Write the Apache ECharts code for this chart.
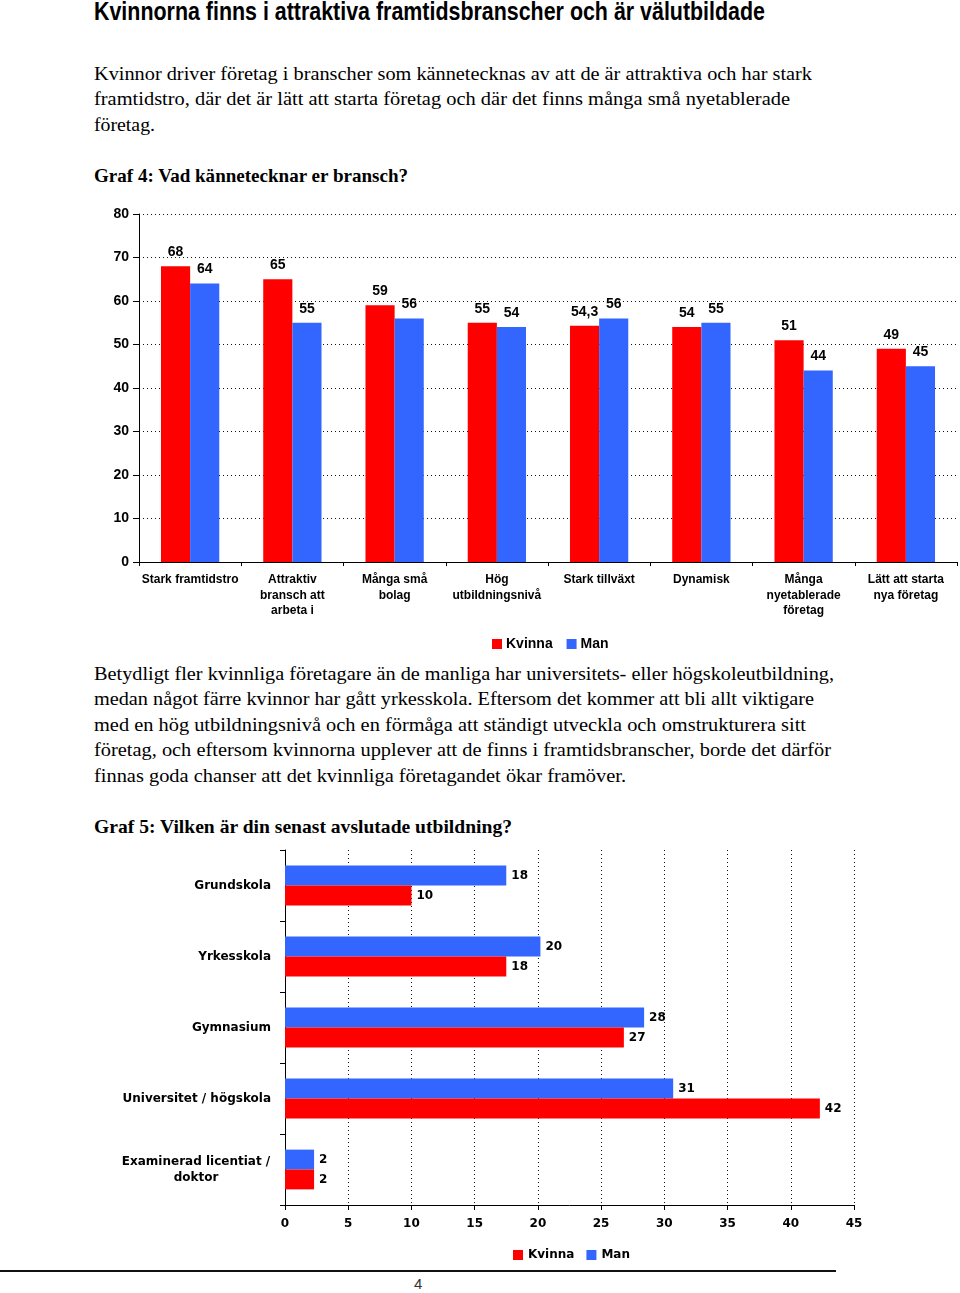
<!DOCTYPE html>
<html>
<head>
<meta charset="utf-8">
<script src="https://cdn.jsdelivr.net/npm/echarts@6/dist/echarts.min.js"></script>
<style>
html,body{margin:0;padding:0;background:#fff;width:960px;height:1293px;overflow:hidden;}
#chart{position:absolute;left:0;top:0;width:960px;height:1293px;z-index:2;}
.t{position:absolute;left:94px;white-space:nowrap;color:#000;z-index:1;}
.t span{display:inline-block;transform-origin:0 50%;}
.serif{font-family:"Liberation Serif","DejaVu Serif",serif;font-size:19px;line-height:24px;height:24px;}
.bold{font-weight:bold;}
.title{font-family:"Liberation Sans",Arial,sans-serif;font-weight:bold;font-size:25px;line-height:28px;height:28px;}
.pnum{font-family:"Liberation Sans",Arial,sans-serif;font-size:15px;color:#333;line-height:18px;}
</style>
</head>
<body>
<div class="t title" style="top:-3px" data-w="671"><span>Kvinnorna finns i attraktiva framtidsbranscher och är välutbildade</span></div>
<div class="t serif" style="top:62px" data-w="718"><span>Kvinnor driver företag i branscher som kännetecknas av att de är attraktiva och har stark</span></div>
<div class="t serif" style="top:87px" data-w="696"><span>framtidstro, där det är lätt att starta företag och där det finns många små nyetablerade</span></div>
<div class="t serif" style="top:113px" data-w="61"><span>företag.</span></div>
<div class="t serif bold" style="top:164px" data-w="314"><span>Graf 4: Vad kännetecknar er bransch?</span></div>
<div class="t serif" style="top:662px" data-w="740"><span>Betydligt fler kvinnliga företagare än de manliga har universitets- eller högskoleutbildning,</span></div>
<div class="t serif" style="top:687px" data-w="720"><span>medan något färre kvinnor har gått yrkesskola. Eftersom det kommer att bli allt viktigare</span></div>
<div class="t serif" style="top:713px" data-w="712"><span>med en hög utbildningsnivå och en förmåga att ständigt utveckla och omstrukturera sitt</span></div>
<div class="t serif" style="top:738px" data-w="737"><span>företag, och eftersom kvinnorna upplever att de finns i framtidsbranscher, borde det därför</span></div>
<div class="t serif" style="top:764px" data-w="532"><span>finnas goda chanser att det kvinnliga företagandet ökar framöver.</span></div>
<div class="t serif bold" style="top:815px" data-w="418"><span>Graf 5: Vilken är din senast avslutade utbildning?</span></div>
<div class="t pnum" style="top:1275px;left:414px"><span>4</span></div>
<div id="chart"></div>
<script>
// ---- Graf 4 data ----
const categories1 = ['Stark framtidstro', 'Attraktiv\nbransch att\narbeta i', 'Många små\nbolag', 'Hög\nutbildningsnivå', 'Stark tillväxt', 'Dynamisk', 'Många\nnyetablerade\nföretag', 'Lätt att starta\nnya företag'];
const kvinna1 = [68, 65, 59, 55, 54.3, 54, 51, 49];
const man1 = [64, 55, 56, 54, 56, 55, 44, 45];
const yMin1 = 0, yMax1 = 80, yStep1 = 10;

// ---- Graf 5 data ----
const categories2 = ['Grundskola', 'Yrkesskola', 'Gymnasium', 'Universitet / högskola', 'Examinerad licentiat /\ndoktor'];
const kvinna2 = [10, 17.5, 26.8, 42.3, 2.3];
const man2 = [17.5, 20.2, 28.4, 30.7, 2.3];
const xMin2 = 0, xMax2 = 45, xStep2 = 5;

const seriesNames = ['Kvinna', 'Man'];

// fit text lines
document.querySelectorAll('.t[data-w]').forEach(el => {
  const s = el.querySelector('span');
  const w = s.getBoundingClientRect().width;
  s.style.transform = 'scaleX(' + (parseFloat(el.dataset.w) / w) + ')';
});

const RED = '#FF0000', BLUE = '#3366FF';
const SANS = '"Liberation Sans", Arial, sans-serif';
const WIDE = '"DejaVu Sans", "Liberation Sans", sans-serif';
const dotted = { color: '#111', width: 1, type: [1, 3] };
const axisLn = { color: '#000', width: 1 };

const chart = echarts.init(document.getElementById('chart'), null, { renderer: 'canvas' });

const cat2Rich = {
  a: { width: 150, align: 'center', fontFamily: WIDE, fontWeight: 'bold', fontSize: 12, color: '#000', lineHeight: 16 }
};

chart.setOption({
  animation: false,
  backgroundColor: 'transparent',
  grid: [
    { left: 139, top: 214, width: 818, height: 348 },
    { left: 285, top: 850, width: 569, height: 355 }
  ],
  legend: [
    { data: seriesNames.map(n => n + ' '), left: 487, top: 632, icon: 'rect', itemWidth: 10, itemHeight: 10, itemGap: 10,
      textStyle: { fontFamily: SANS, fontWeight: 'bold', fontSize: 14, color: '#000', padding: [0, 0, 0, -1] } },
    { data: seriesNames, left: 508, top: 1244, icon: 'rect', itemWidth: 10, itemHeight: 10, itemGap: 12,
      textStyle: { fontFamily: WIDE, fontWeight: 'bold', fontSize: 12, color: '#000' } }
  ],
  xAxis: [
    { type: 'category', gridIndex: 0, data: categories1,
      axisLine: { lineStyle: axisLn },
      axisTick: { show: true, length: 4, lineStyle: axisLn },
      axisLabel: { interval: 0, margin: 10, fontFamily: SANS, fontWeight: 'bold', fontSize: 12, lineHeight: 15.5, color: '#000' },
      splitLine: { show: false } },
    { type: 'value', gridIndex: 1, min: xMin2, max: xMax2, interval: xStep2,
      axisLine: { show: true, lineStyle: axisLn },
      axisTick: { show: true, length: 5, lineStyle: axisLn },
      axisLabel: { margin: 13, fontFamily: WIDE, fontWeight: 'bold', fontSize: 12, color: '#000' },
      splitLine: { show: true, lineStyle: dotted } }
  ],
  yAxis: [
    { type: 'value', gridIndex: 0, min: yMin1, max: yMax1, interval: yStep1,
      axisLine: { show: true, lineStyle: axisLn },
      axisTick: { show: true, length: 6, lineStyle: axisLn },
      axisLabel: { margin: 10, fontFamily: SANS, fontWeight: 'bold', fontSize: 14, color: '#000' },
      splitLine: { show: true, lineStyle: dotted } },
    { type: 'category', gridIndex: 1, data: categories2, inverse: true,
      axisLine: { show: true, lineStyle: axisLn },
      axisTick: { show: true, length: 5, lineStyle: axisLn },
      axisLabel: { interval: 0, margin: 14, color: '#000',
        formatter: v => v.indexOf('\n') >= 0 ? v.split('\n').map(p => '{a|' + p + '}').join('\n') : v,
        fontFamily: WIDE, fontWeight: 'bold', fontSize: 12, rich: cat2Rich } }
  ],
  series: [
    { name: seriesNames[0] + ' ', type: 'bar', xAxisIndex: 0, yAxisIndex: 0, data: kvinna1,
      itemStyle: { color: RED }, barGap: '0%', barCategoryGap: '43%',
      label: { show: true, position: 'top', distance: 7, fontFamily: SANS, fontWeight: 'bold', fontSize: 14, color: '#000',
        formatter: p => String(p.value).replace('.', ',') } },
    { name: seriesNames[1] + ' ', type: 'bar', xAxisIndex: 0, yAxisIndex: 0, data: man1,
      itemStyle: { color: BLUE }, barGap: '0%', barCategoryGap: '43%',
      label: { show: true, position: 'top', distance: 7, fontFamily: SANS, fontWeight: 'bold', fontSize: 14, color: '#000',
        formatter: p => String(p.value).replace('.', ',') } },
    { name: seriesNames[1], type: 'bar', xAxisIndex: 1, yAxisIndex: 1, data: man2,
      itemStyle: { color: BLUE }, barGap: '0%', barCategoryGap: '44%',
      label: { show: true, position: 'right', distance: 5, fontFamily: WIDE, fontWeight: 'bold', fontSize: 12, color: '#000',
        formatter: p => String(Math.round(p.value)) } },
    { name: seriesNames[0], type: 'bar', xAxisIndex: 1, yAxisIndex: 1, data: kvinna2,
      itemStyle: { color: RED }, barGap: '0%', barCategoryGap: '44%',
      label: { show: true, position: 'right', distance: 5, fontFamily: WIDE, fontWeight: 'bold', fontSize: 12, color: '#000',
        formatter: p => String(Math.round(p.value)) } }
  ],
  graphic: [
    { type: 'line', shape: { x1: 0, y1: 1271, x2: 836, y2: 1271 }, style: { stroke: '#111', lineWidth: 2 } }
  ]
});
</script>
</body>
</html>
